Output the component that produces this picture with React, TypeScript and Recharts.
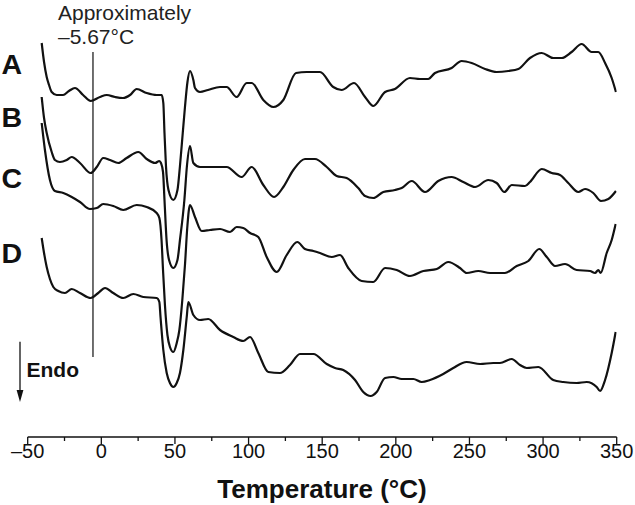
import React from 'react';
import { LineChart, Line, XAxis, YAxis, ReferenceLine } from 'recharts';

type Pt = [number, number];

// Temperature (°C), heat flow (arbitrary offset units, larger = up)
const curveA: Pt[] = [
  [-40.5, 394], [-38.9, 375], [-37.1, 360], [-35.5, 352], [-33.7, 345], [-30.3, 342], [-26, 342], [-22, 346],
  [-17.9, 349], [-12.4, 342], [-7.2, 336], [-0.9, 340], [3.7, 342], [9.3, 340], [14.7, 339], [19.5, 342],
  [24, 348], [30.8, 344], [37.6, 342], [41, 342], [42.1, 334], [42.9, 304], [43.9, 271], [45.6, 247],
  [48.9, 237], [51.7, 247], [53.4, 271], [55.3, 304], [56.8, 330], [58.5, 355], [60.2, 366], [62.5, 357],
  [63.6, 349], [67, 345], [72.4, 347], [80.6, 350], [85.1, 350], [91.9, 340], [98.7, 354], [102.1, 354],
  [110, 337], [116.8, 330], [123.6, 337], [132.2, 364], [139.5, 365], [148.5, 365], [157.5, 350], [163.2, 347],
  [171.6, 354], [179.1, 340], [184.7, 331], [192.7, 345], [199.4, 348], [209.6, 359], [216.4, 358], [222, 358],
  [226.6, 364], [237.9, 369], [244.7, 376], [251.5, 374], [260.6, 368], [268.5, 365], [276.4, 366], [283.2, 368],
  [291.1, 379], [299.1, 384], [306.9, 379], [312.6, 379], [319.4, 385], [326.2, 393], [333, 385], [337.5, 385],
  [342.1, 374], [346.6, 359], [349.5, 345],
];

const curveB: Pt[] = [
  [-40.5, 340], [-38.9, 319], [-37.1, 304], [-33.7, 285], [-31.5, 277], [-28.1, 275], [-23.5, 277], [-20.1, 280],
  [-14.5, 274], [-7.2, 264], [-3.1, 270], [1.3, 279], [5.9, 277], [11.5, 274], [17.2, 279], [25.1, 285],
  [30.8, 278], [36.5, 274], [39.4, 276], [40.5, 274], [41.9, 265], [42.9, 237], [44.3, 197], [46, 177],
  [48.9, 169], [51.7, 177], [53.4, 197], [56.4, 237], [58.2, 272], [60.2, 291], [62.5, 274], [67, 270],
  [76, 270], [85.1, 270], [95.3, 260], [102.1, 270], [110, 252], [117.3, 240], [123.6, 250], [130.4, 267],
  [138.3, 278], [145.1, 278], [153.1, 270], [159.8, 261], [166.6, 259], [174.5, 249], [179.1, 241], [184.7, 239],
  [191.5, 245], [199.4, 247], [204, 249], [210.8, 256], [219.8, 245], [228.8, 256], [237.9, 260], [245.8, 255],
  [253.8, 250], [262.8, 257], [268.5, 254], [273.7, 245], [278.7, 252], [287.7, 251], [291.1, 255], [299.1, 268],
  [305.9, 264], [311.5, 262], [317.1, 254], [323.9, 245], [328.5, 248], [334.1, 244], [339.3, 236], [344.3, 238],
  [349.5, 246],
];

const curveC: Pt[] = [
  [-40.5, 314], [-38.3, 287], [-34.9, 257], [-31.5, 246], [-25.8, 244], [-20.1, 240], [-14.5, 235], [-7.7, 228],
  [-3.1, 229], [1.3, 233], [8.1, 231], [14.9, 227], [24, 232], [30.8, 230], [37.6, 224], [39.4, 219],
  [40.9, 197], [41.9, 167], [43.2, 132], [44.9, 102], [46.6, 90], [48.9, 85], [51.2, 94], [53, 107],
  [55, 137], [56.8, 172], [58.5, 212], [60.2, 232], [63.6, 220], [68.2, 206], [73.8, 207], [80.6, 208],
  [87.4, 205], [91.9, 210], [96.4, 209], [101, 204], [106.6, 200], [112.3, 180], [119.1, 165], [125.9, 182],
  [133.1, 195], [138.3, 188], [144, 186], [148.5, 184], [156.5, 180], [162.1, 182], [167.7, 169], [176.8, 156],
  [184.7, 155], [192.7, 169], [200.6, 167], [209.6, 161], [218.7, 166], [227.8, 168], [235.6, 175], [243.6, 169],
  [248.1, 164], [256, 166], [264, 164], [274.1, 164], [282.1, 171], [290, 176], [297.4, 188], [302.5, 180],
  [308.1, 171], [314.9, 173], [322.8, 167], [331.9, 166], [335.3, 164], [337.5, 167], [339.1, 164], [343.2, 184],
  [346.6, 197], [349.3, 213],
];

const curveD: Pt[] = [
  [-40.5, 199], [-38.9, 184], [-37.1, 170], [-34.9, 158], [-32.6, 150], [-29.2, 146], [-24.7, 144], [-20.1, 148],
  [-14.5, 144], [-7.2, 139], [-2.1, 144], [2.5, 149], [8.1, 144], [14.9, 139], [21.7, 143], [28.5, 140],
  [37.6, 139], [39.4, 135], [40.2, 120], [42.1, 87], [44.4, 64], [46.6, 54], [48.9, 50], [51.2, 54],
  [53.4, 64], [55.7, 87], [58, 120], [59.1, 135], [62.5, 122], [67, 117], [72.6, 118], [80.6, 107],
  [89.6, 100], [96.4, 96], [101, 100], [106.6, 84], [113.4, 65], [121.3, 64], [128.1, 72], [134.9, 83],
  [144, 83], [153.1, 73], [158.7, 69], [164.3, 67], [172.3, 57], [177.9, 45], [182.9, 41], [187, 45],
  [192.7, 59], [198.3, 60], [204, 58], [211.9, 58], [217.6, 55], [223.2, 57], [232.2, 63], [239, 69],
  [248.1, 75], [257.2, 73], [266.2, 74], [270.7, 74], [278.7, 78], [284.3, 72], [288.9, 69], [296.8, 70],
  [306.9, 57], [313.7, 55], [322.8, 54], [329.6, 55], [336.4, 50], [338.7, 46], [342.1, 57], [346.6, 84],
  [349.3, 105],
];

const xTicks = [-50, -25, 0, 25, 50, 75, 100, 125, 150, 175, 200, 225, 250, 275, 300, 325, 350];
const xTickLabels: Record<string, string> = {
  '-50': '–50', '0': '0', '50': '50', '100': '100', '150': '150',
  '200': '200', '250': '250', '300': '300', '350': '350',
};
const markTemp = -5.67;
const markSpan: [number, number] = [80, 385];
const xTitle = 'Temperature (°C)';
const noteLines = ['Approximately', '–5.67°C'];
const curveLabels = ['A', 'B', 'C', 'D'];
const endoLabel = 'Endo';

const FONT = '"Liberation Sans", Arial, Helvetica, sans-serif';
const toRows = (pts: Pt[]) => pts.map(([t, v]) => ({ t, v }));

const AxisTick = (props: any) => {
  const { x, y, payload } = props;
  const label = xTickLabels[String(payload.value)];
  const major = label !== undefined;
  return (
    <g>
      <line x1={x} x2={x} y1={y} y2={y + (major ? 7 : 4)} stroke="#111" strokeWidth={1.3} />
      {major && (
        <text x={x} y={y + 21} textAnchor="middle" fontFamily={FONT} fontSize={20} fill="#111">
          {label}
        </text>
      )}
    </g>
  );
};

const curves = [curveA, curveB, curveC, curveD];
const labelBaselines = [73.5, 126.7, 187.8, 263.3];

export default function App() {
  return (
    <div style={{ position: 'absolute', left: 0, top: 0, width: 635, height: 505, background: '#fff' }}>
      <LineChart width={635} height={505} margin={{ top: 10, right: 18.3, bottom: 8, left: 27.7 }}>
        <XAxis
          dataKey="t"
          type="number"
          domain={[-50, 350]}
          ticks={xTicks}
          interval={0}
          allowDataOverflow
          height={60}
          tickSize={0}
          tickMargin={0}
          tickLine={false}
          axisLine={{ stroke: '#111', strokeWidth: 1.5 }}
          tick={<AxisTick />}
        />
        <YAxis type="number" domain={[0, 427]} hide allowDataOverflow />
        <ReferenceLine
          segment={[{ x: markTemp, y: markSpan[0] }, { x: markTemp, y: markSpan[1] }]}
          stroke="#222"
          strokeWidth={1.3}
        />
        {curves.map((c, i) => (
          <Line
            key={curveLabels[i]}
            data={toRows(c)}
            dataKey="v"
            type="monotone"
            stroke="#111"
            strokeWidth={2.2}
            dot={false}
            activeDot={false}
            isAnimationActive={false}
            strokeLinejoin="round"
          />
        ))}
      </LineChart>
      <svg
        width={635}
        height={505}
        style={{ position: 'absolute', left: 0, top: 0, pointerEvents: 'none' }}
      >
        {curveLabels.map((l, i) => (
          <text key={l} x={1.5} y={labelBaselines[i]} fontFamily={FONT} fontWeight="bold" fontSize={28.5} fill="#111">
            {l}
          </text>
        ))}
        <text x={58} y={19.5} fontFamily={FONT} fontSize={21} fill="#222">{noteLines[0]}</text>
        <text x={58} y={44} fontFamily={FONT} fontSize={21} fill="#222">{noteLines[1]}</text>
        <line x1={20} x2={20} y1={341.7} y2={392} stroke="#111" strokeWidth={1.3} />
        <polygon points="16.6,390 23.4,390 20,402" fill="#111" />
        <text x={26.5} y={377} fontFamily={FONT} fontWeight="bold" fontSize={21} fill="#111">{endoLabel}</text>
        <text x={322} y={498} textAnchor="middle" fontFamily={FONT} fontWeight="bold" fontSize={26} fill="#111">
          {xTitle}
        </text>
      </svg>
    </div>
  );
}
